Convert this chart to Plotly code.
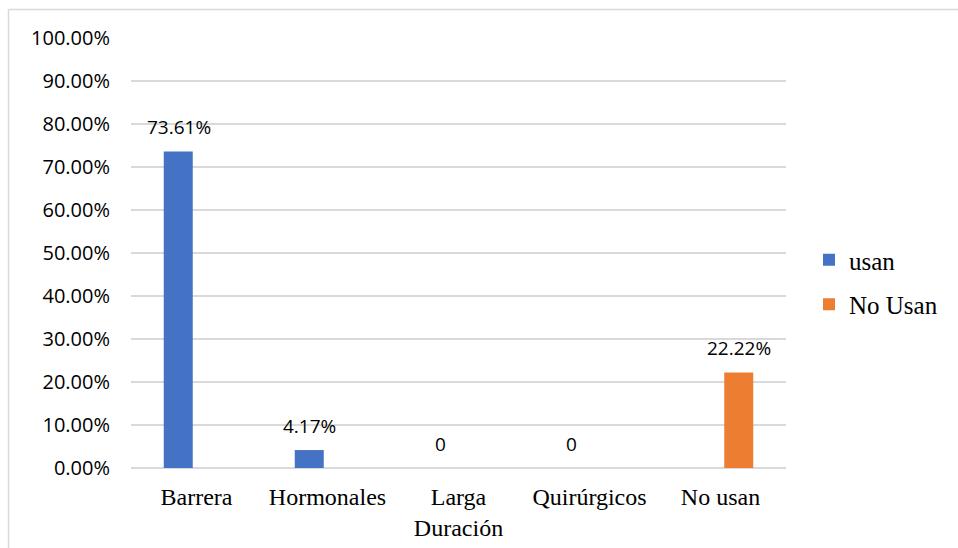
import plotly.graph_objects as go

categories = ["Barrera", "Hormonales", "Larga<br>Duración", "Quirúrgicos", "No usan"]
usan_values = [0.7361, 0.0417, 0.0, 0.0, None]
no_usan_values = [None, None, None, None, 0.2222]
series_names = ["usan", "No Usan"]
series_colors = ["#4472C4", "#ED7D31"]
y_ticks = [i / 10 for i in range(11)]

W, H = 958, 548
L, R, T, B = 131, 172, 38, 80

fig = go.Figure()
for name, vals, col in zip(series_names, [usan_values, no_usan_values], series_colors):
    fig.add_trace(go.Bar(
        x=categories, y=vals, name=name, marker=dict(color=col, line=dict(width=0)),
        legendgroup=name, hoverinfo="skip",
    ))

def label(v):
    return "0" if v == 0 else f"{v*100:.2f}%"

annotations = []
for vals, shift in [(usan_values, -18), (no_usan_values, 18)]:
    for c, v in zip(categories, vals):
        if v is None:
            continue
        annotations.append(dict(
            x=c, y=v, xref="x", yref="y", text=label(v), showarrow=False,
            xshift=shift, yshift=24, xanchor="center", yanchor="middle",
            font=dict(family="Open Sans", size=19, color="#000000"),
        ))

pw = W - L - R
ph = H - T - B
bx0 = (8.5 - L) / pw
bx1 = (W + 10 - L) / pw
by1 = (H - B - 9.5) / ph
by0 = -(B + 10) / ph
border = dict(color="#d9d9d9", width=1.5)
fig.update_layout(
    width=W, height=H,
    margin=dict(l=L, r=R, t=T, b=B, autoexpand=False),
    paper_bgcolor="white", plot_bgcolor="white",
    barmode="group", bargap=0.443, bargroupgap=0.205,
    annotations=annotations,
    shapes=[dict(type="line", xref="paper", yref="paper", x0=bx0, x1=bx1, y0=by1, y1=by1,
                 line=border, layer="below"),
            dict(type="line", xref="paper", yref="paper", x0=bx0, x1=bx0, y0=by0, y1=by1,
                 line=border, layer="below")],
    legend=dict(x=(809 - L) / pw, xanchor="left", y=(H - B - 282) / ph, yanchor="middle",
                font=dict(family="Liberation Serif", size=25, color="#000000"),
                traceorder="grouped", tracegroupgap=9, bgcolor="rgba(0,0,0,0)"),
    xaxis=dict(type="category", showgrid=False, showline=False, zeroline=False,
               tickfont=dict(family="Liberation Serif", size=24, color="#000000"),
               ticklabelstandoff=12, fixedrange=True),
    yaxis=dict(range=[0, 1], tickvals=y_ticks, tickformat=".2%", showgrid=True,
               gridcolor="#d9d9d9", gridwidth=1.5, zeroline=True, zerolinecolor="#d9d9d9",
               zerolinewidth=1.5, showline=False,
               tickfont=dict(family="Open Sans", size=20, color="#000000"),
               ticklabelstandoff=20, fixedrange=True),
)
fig.write_html("out.html", config={"displayModeBar": False},
               post_script="document.body.style.margin='0px';document.body.style.overflow='hidden';")
